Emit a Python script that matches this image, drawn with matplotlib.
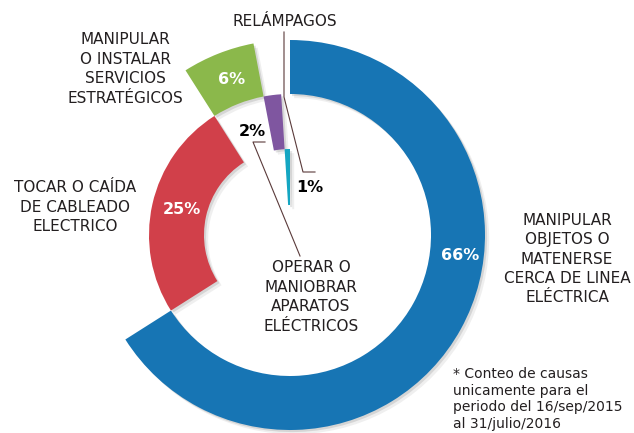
import matplotlib
matplotlib.use('Agg')
import matplotlib.pyplot as plt
import matplotlib.patheffects as pe


# Datos
causas = ['MANIPULAR\nOBJETOS O\nMATENERSE\nCERCA DE LINEA\nELÉCTRICA',
          'TOCAR O CAÍDA\nDE CABLEADO\nELECTRICO',
          'MANIPULAR\nO INSTALAR\nSERVICIOS\nESTRATÉGICOS',
          'OPERAR O\nMANIOBRAR\nAPARATOS\nELÉCTRICOS',
          'RELÁMPAGOS']
porcentajes = [66, 25, 6, 2, 1]
etiquetas = ['66%', '25%', '6%', '2%', '1%']
colores = ['#1775b4', '#d1404a', '#8bb84b', '#7f56a0', '#14a6c2']
anillo = [0, 1, 0, 1, 2]   # 0 = exterior, 1 = medio, 2 = interior
nota = '* Conteo de causas\nunicamente para el\nperiodo del 16/sep/2015\nal 31/julio/2016'

# Geometria (en pixeles, y hacia arriba)
centro = (290, 198)
radios = [195, 141, 86]
ancho = [54, 55, 56]

fig = plt.figure(figsize=(6.34, 4.33), dpi=100)
ax = fig.add_axes([0, 0, 1, 1])

# sombra suave en capas
sombra = [pe.SimplePatchShadow(offset=(3, -3), shadow_rgbFace='#666666', alpha=0.10),
          pe.SimplePatchShadow(offset=(1.5, -1.5), shadow_rgbFace='#444444', alpha=0.15),
          pe.Normal()]

for k in range(3):
    cols = [c if a == k else 'none' for c, a in zip(colores, anillo)]
    wedges, _ = ax.pie(porcentajes, colors=cols, startangle=90, counterclock=False,
                       radius=radios[k], center=centro,
                       wedgeprops=dict(width=ancho[k], linewidth=0))
    for w, a in zip(wedges, anillo):
        if a != k:
            w.set_visible(False)
        else:
            w.set_path_effects(sombra)

ax.set_xlim(0, 634)
ax.set_ylim(0, 433)
ax.set_aspect('equal')
ax.axis('off')

txt = '#231f20'
linea = '#5a3a3a'

# Nombres de las causas
pos_causas = [(567, 174), (75, 226), (125, 364), (311, 136), (285, 412)]
for t, (x, y) in zip(causas, pos_causas):
    ax.text(x, y, t, ha='center', va='center', fontsize=11, color=txt, linespacing=1.37)

# Porcentajes
pos_pct = [(460, 177), (182, 223), (232, 353), (252, 301), (310, 245)]
col_pct = ['white', 'white', 'white', 'black', 'black']
for t, (x, y), c in zip(etiquetas, pos_pct, col_pct):
    ax.text(x, y, t, ha='center', va='center', fontsize=11.5, fontweight='bold', color=c)

# Lineas guia
ax.plot([284, 284, 303, 315], [401, 336, 261, 261], color=linea, lw=0.8)
ax.plot([265, 253, 300], [291, 291, 177], color=linea, lw=0.8)

# Nota
ax.text(453, 34, nota, ha='left', va='center', fontsize=10, color=txt, linespacing=1.22)

fig.savefig('out.png', dpi=100)
